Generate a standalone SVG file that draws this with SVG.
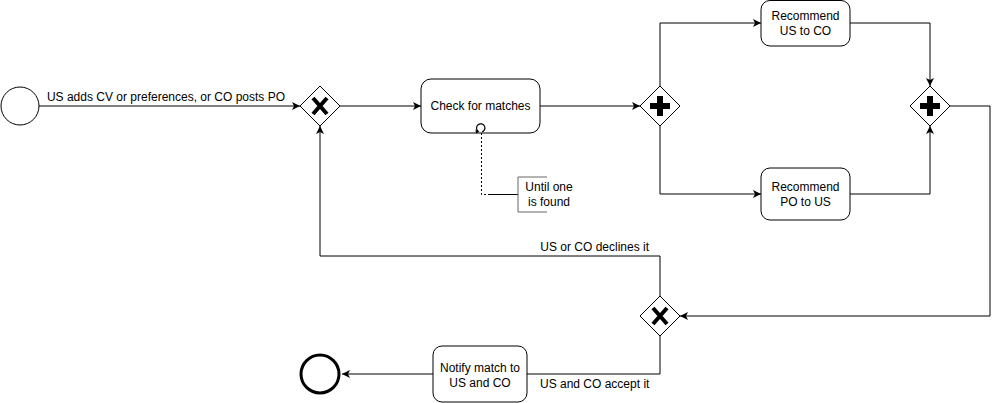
<svg xmlns="http://www.w3.org/2000/svg" width="999" height="403" viewBox="0 0 999 403">
<style>
text{font-family:"Liberation Sans",Arial,sans-serif;font-size:12px;fill:#000}
.c{text-anchor:middle}
.task{fill:#fff;stroke:#000;stroke-width:1}
.gw{fill:#fff;stroke:#000;stroke-width:1}
.edge{fill:none;stroke:#000;stroke-width:1}
.mark{fill:#000;stroke:none}
</style>
<defs>
<marker id="arr" markerUnits="userSpaceOnUse" markerWidth="10" markerHeight="10" refX="8" refY="4" orient="auto">
<path d="M0,0 L8,4 L0,8 L2,4 z" fill="#000"/>
</marker>
</defs>
<rect width="999" height="403" fill="#fff"/>
<g id="connectors">
<path class="edge" d="M39,106 H300" marker-end="url(#arr)"/>
<path class="edge" d="M340,106 H421" marker-end="url(#arr)"/>
<path class="edge" d="M540,106 H640" marker-end="url(#arr)"/>
<path class="edge" d="M660,86 V23 H761" marker-end="url(#arr)"/>
<path class="edge" d="M660,126 V194 H761" marker-end="url(#arr)"/>
<path class="edge" d="M850,23 H930 V86" marker-end="url(#arr)"/>
<path class="edge" d="M850,194 H930 V126" marker-end="url(#arr)"/>
<path class="edge" d="M950,106 H990 V316 H680" marker-end="url(#arr)"/>
<path class="edge" d="M660,296 V256 H320 V126" marker-end="url(#arr)"/>
<path class="edge" d="M660,336 V374 H527"/>
<path class="edge" d="M433,374 H342" marker-end="url(#arr)"/>
<path fill="none" stroke="#000" stroke-width="1" stroke-dasharray="2,2" d="M481.5,133 V194.5 H490"/>
<path class="edge" d="M490,194.5 H518"/>
<text x="166" y="101" class="c">US adds CV or preferences, or CO posts PO</text>
<text x="649" y="251" text-anchor="end">US or CO declines it</text>
<text x="540" y="388">US and CO accept it</text>
</g>
<g id="start">
<circle cx="20" cy="106" r="19" fill="#fff" stroke="#000" stroke-width="1"/>
</g>
<g id="gw1">
<path class="gw" d="M320,86 L340,106 L320,126 L300,106 z"/>
<path d="M313,98 L327,114 M327,98 L313,114" stroke="#000" stroke-width="4" stroke-linecap="butt"/>
</g>
<g id="check">
<rect class="task" x="421" y="79" width="119" height="54" rx="10"/>
<text x="480.5" y="110" class="c">Check for matches</text>
<path d="M478,131.2 A4.2,4.2 0 1 1 482,132" fill="none" stroke="#000" stroke-width="1.2"/>
<path d="M475.5,129.5 L479.5,131.5 L476,133.5 z" fill="#000"/>
</g>
<g id="annotation">
<path d="M547,177 H518 V212 H547" fill="none" stroke="#666" stroke-width="1"/>
<text x="549" y="191" class="c">Until one</text>
<text x="549" y="206" class="c">is found</text>
</g>
<g id="gw2">
<path class="gw" d="M660,86 L680,106 L660,126 L640,106 z"/>
<path class="mark" d="M657,96 H663 V103 H670 V109 H663 V116 H657 V109 H650 V103 H657 z"/>
</g>
<g id="rec1">
<rect class="task" x="761" y="0.5" width="89" height="45.5" rx="9"/>
<text x="805.5" y="20" class="c">Recommend</text>
<text x="805.5" y="35" class="c">US to CO</text>
</g>
<g id="rec2">
<rect class="task" x="761" y="168" width="89" height="52" rx="9"/>
<text x="805.5" y="191" class="c">Recommend</text>
<text x="805.5" y="206" class="c">PO to US</text>
</g>
<g id="gw3">
<path class="gw" d="M930,86 L950,106 L930,126 L910,106 z"/>
<path class="mark" d="M927,96 H933 V103 H940 V109 H933 V116 H927 V109 H920 V103 H927 z"/>
</g>
<g id="gw4">
<path class="gw" d="M660,296 L680,316 L660,336 L640,316 z"/>
<path d="M653,308 L667,324 M667,308 L653,324" stroke="#000" stroke-width="4"/>
</g>
<g id="notify">
<rect class="task" x="433" y="346" width="94" height="56" rx="9"/>
<text x="480" y="372" class="c">Notify match to</text>
<text x="480" y="387" class="c">US and CO</text>
</g>
<g id="end">
<circle cx="320" cy="374" r="19" fill="#fff" stroke="#000" stroke-width="3"/>
</g>
</svg>
